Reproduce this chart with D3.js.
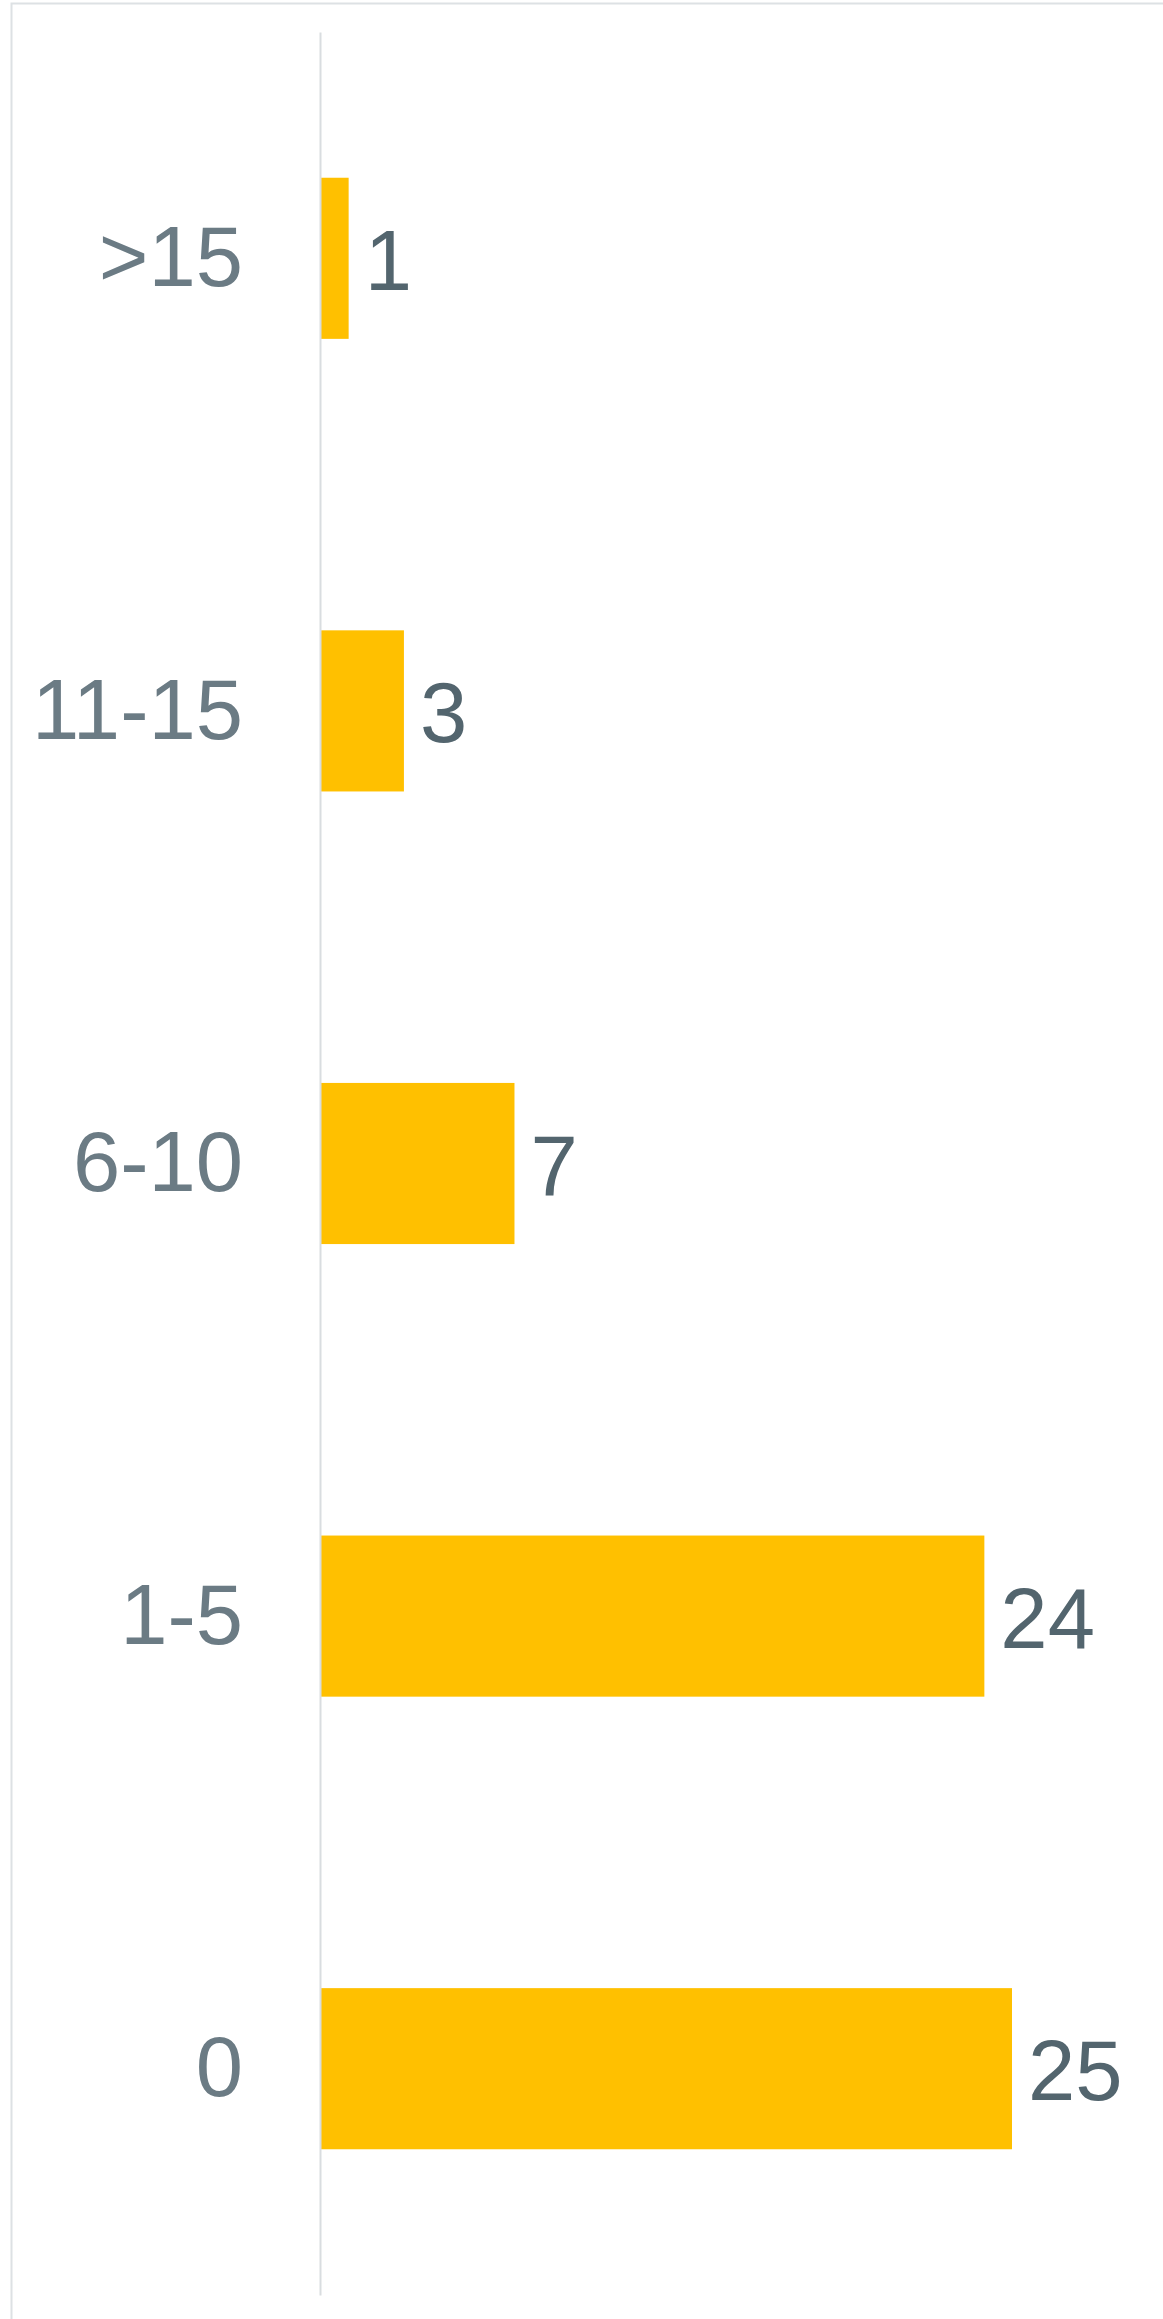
<!DOCTYPE html>
<html>
<head>
<meta charset="utf-8">
<script src="https://cdn.jsdelivr.net/npm/d3@7"></script>
<style>
  body { margin: 0; background: #fff; }
  svg { display: block; }
  .tick-label { fill: #6b7b84; font-family: "Liberation Sans", Arial, sans-serif; font-size: 85px; }
  .value-label { fill: #53656e; font-family: "Liberation Sans", Arial, sans-serif; font-size: 85px; }
</style>
</head>
<body>
<div id="chart"></div>
<script>
var categories = [">15", "11-15", "6-10", "1-5", "0"];
var counts = [1, 3, 7, 24, 25];

var width = 1163,
    height = 2319;

var margin = {top: 32, left: 321, bottom: 24};

var svg = d3.select("#chart").append("svg")
    .attr("width", width)
    .attr("height", height);

// outer frame
svg.append("rect")
    .attr("x", 11.5)
    .attr("y", 3.5)
    .attr("width", width + 10)
    .attr("height", height + 10)
    .attr("fill", "none")
    .attr("stroke", "#dde1e4")
    .attr("stroke-width", 2);

var y = d3.scaleBand()
    .domain(categories)
    .range([margin.top, height - margin.bottom])
    .paddingInner(0.644)
    .paddingOuter(0.322);

var x = d3.scaleLinear()
    .domain([0, 25])
    .range([margin.left, 1012]);

var data = categories.map(function(c, i) { return {cat: c, value: counts[i]}; });

// bars
svg.append("g").selectAll("rect")
    .data(data)
  .enter().append("rect")
    .attr("x", x(0))
    .attr("y", function(d) { return y(d.cat); })
    .attr("width", function(d) { return x(d.value) - x(0); })
    .attr("height", y.bandwidth())
    .attr("fill", "#ffc000");

// category axis
var yAxis = svg.append("g")
    .attr("transform", "translate(" + (x(0) - 1) + ",0)")
    .call(d3.axisLeft(y).tickSize(0).tickPadding(77));

yAxis.select(".domain")
    .attr("stroke", "#d9dde0")
    .attr("stroke-width", 2);

yAxis.selectAll(".tick text")
    .attr("class", "tick-label")
    .attr("fill", null)
    .attr("font-size", null)
    .attr("font-family", null)
    .attr("dy", "0.325em");

// value labels
svg.append("g").selectAll("text")
    .data(data)
  .enter().append("text")
    .attr("class", "value-label")
    .attr("x", function(d) { return x(d.value) + 16; })
    .attr("y", function(d) { return y(d.cat) + y.bandwidth() / 2; })
    .attr("dy", "0.37em")
    .text(function(d) { return d.value; });
</script>
</body>
</html>
